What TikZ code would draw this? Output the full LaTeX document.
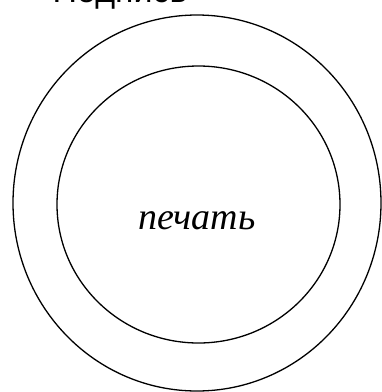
\documentclass[tikz,border=0pt]{standalone}
\usepackage{fontspec}
\setmainfont{Liberation Serif}
\newfontfamily\captionfont{Liberation Sans}
\begin{document}
\begin{tikzpicture}[
    x=1pt, y=-1pt,
    ring/.style={draw, line width=1.3pt},
    stamp/.style={font=\fontsize{38}{40}\selectfont\itshape},
    heading/.style={font=\captionfont\fontsize{34}{36}\selectfont, anchor=base}
]

% Frame of the picture
\useasboundingbox (0,0) rectangle (382,392);
\clip (0,0) rectangle (382,392);

% Centre of the seal
\coordinate (center) at (197,203);

% Cut-off heading at the top
\node[heading] (sign) at (120,2) {Подпись};

% Outer and inner rings
\draw[ring] (center) ellipse [x radius=184, y radius=188];
\draw[ring] (198.5,204.5) ellipse [x radius=141.5, y radius=138.5];

% Seal label
\node[stamp] (seal) at (197,221) {печать};

\end{tikzpicture}
\end{document}
